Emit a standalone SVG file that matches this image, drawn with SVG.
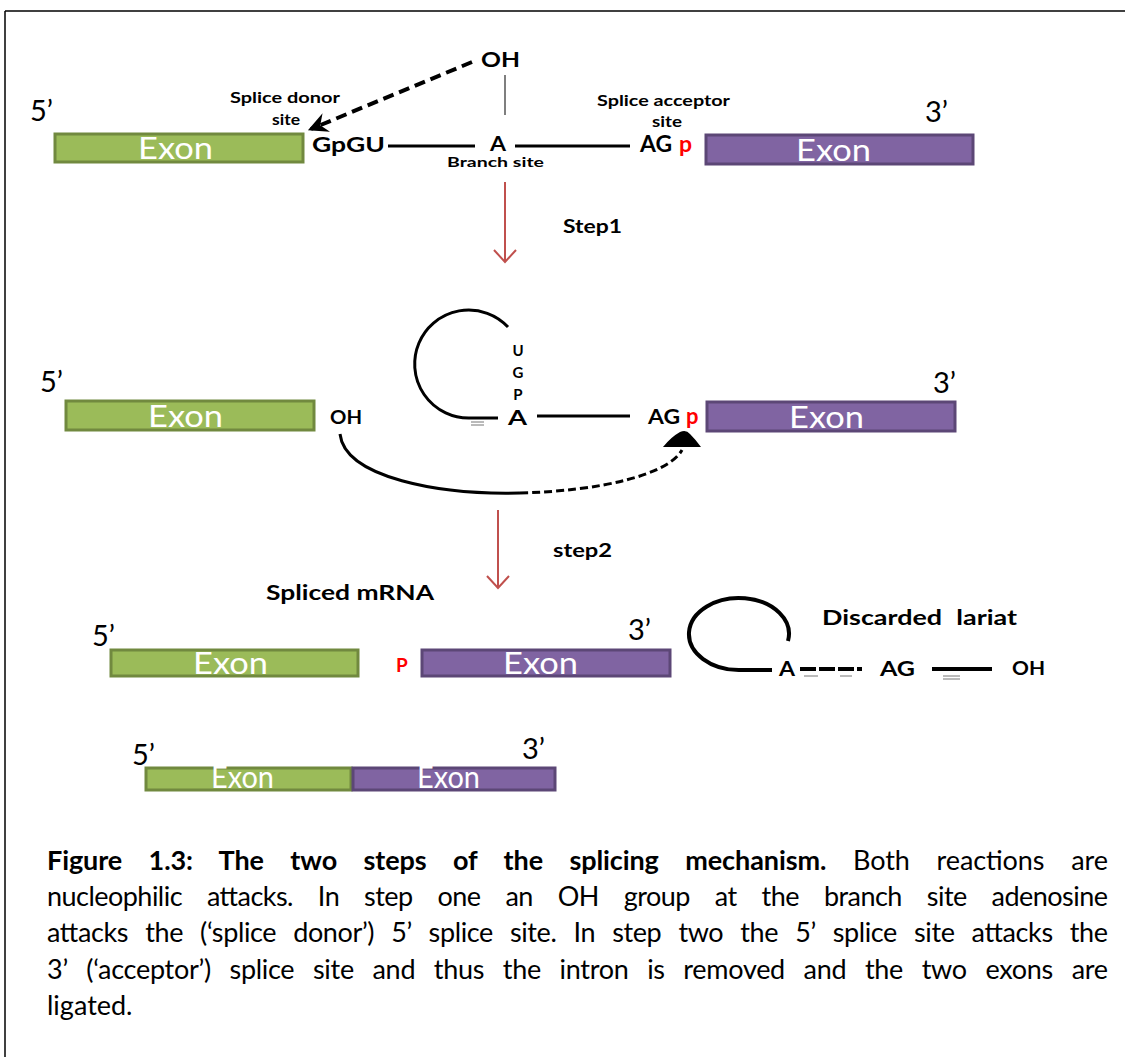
<svg xmlns="http://www.w3.org/2000/svg" width="1125" height="1057" viewBox="0 0 1125 1057">
  <defs>
    <style>
      .bold { font-family: Lato, "Open Sans", "Liberation Sans", sans-serif; font-weight: bold; fill: #000; }
      .prime { font-family: Lato, "Open Sans", "Liberation Sans", sans-serif; font-size: 29px; fill: #000; }
      .exon-txt { font-family: Lato, "Open Sans", "Liberation Sans", sans-serif; font-size: 31px; fill: #fff; }
      .green { fill: #9BBB59; stroke: #71893F; stroke-width: 3; }
      .purple { fill: #8064A2; stroke: #5C4776; stroke-width: 3; }
      .red-p { font-family: Lato, "Open Sans", "Liberation Sans", sans-serif; font-weight: bold; fill: #FF0000; }
      .intron { stroke: #000; stroke-width: 3; fill: none; }
      .step { stroke: #C0504D; stroke-width: 2; fill: none; }
      .cap { font-family: Lato, "Open Sans", "Liberation Sans", sans-serif; font-size: 27px; fill: #000; }
    </style>
    <marker id="chevron" viewBox="0 0 12 12" refX="10" refY="6" markerWidth="5" markerHeight="5" orient="auto-start-reverse" markerUnits="strokeWidth">
      <path d="M0,0 L12,6 L0,12 L4,6 Z" fill="#000"/>
    </marker>
  </defs>

  <!-- frame -->
  <g id="frame" stroke="#000" stroke-width="1.5">
    <line x1="5" y1="11" x2="1125" y2="11"/>
    <line x1="5" y1="11" x2="5" y2="1057"/>
  </g>

  <!-- pre-mRNA, before step 1 -->
  <g id="pre-mrna">
    <text class="prime" x="30" y="121">5’</text>
    <g id="exon1-a">
      <rect class="green" x="55" y="134" width="248" height="28"/>
      <text class="exon-txt" x="138" y="159" textLength="75" lengthAdjust="spacingAndGlyphs">Exon</text>
    </g>
    <text class="bold" x="230" y="103" font-size="16" textLength="110" lengthAdjust="spacingAndGlyphs">Splice donor</text>
    <text class="bold" x="272" y="125" font-size="16" textLength="28" lengthAdjust="spacingAndGlyphs">site</text>
    <text class="bold" x="312" y="152" font-size="21" textLength="73" lengthAdjust="spacingAndGlyphs">GpGU</text>
    <line class="intron" x1="388" y1="146" x2="475" y2="146"/>
    <text class="bold" x="481" y="67" font-size="21" textLength="39" lengthAdjust="spacingAndGlyphs">OH</text>
    <line x1="505" y1="75" x2="505" y2="115" stroke="#555" stroke-width="1.5"/>
    <text class="bold" x="490" y="151" font-size="21" textLength="16" lengthAdjust="spacingAndGlyphs">A</text>
    <text class="bold" x="447" y="167" font-size="14" textLength="97" lengthAdjust="spacingAndGlyphs">Branch site</text>
    <line class="intron" x1="515" y1="146" x2="630" y2="146"/>
    <text class="bold" x="597" y="106" font-size="16" textLength="133" lengthAdjust="spacingAndGlyphs">Splice acceptor</text>
    <text class="bold" x="652" y="127" font-size="16" textLength="30" lengthAdjust="spacingAndGlyphs">site</text>
    <text class="bold" x="640" y="152" font-size="22" textLength="32" lengthAdjust="spacingAndGlyphs">AG</text>
    <text class="red-p" x="679" y="152" font-size="23">p</text>
    <g id="exon2-a">
      <rect class="purple" x="706" y="135" width="267" height="29"/>
      <text class="exon-txt" x="796" y="161" textLength="75" lengthAdjust="spacingAndGlyphs">Exon</text>
    </g>
    <text class="prime" x="925" y="122">3’</text>
  </g>

  <!-- intermediate with lariat, before step 2 -->
  <g id="intermediate">
    <text class="prime" x="40" y="392">5’</text>
    <g id="exon1-b">
      <rect class="green" x="66" y="401" width="248" height="29"/>
      <text class="exon-txt" x="148" y="427" textLength="75" lengthAdjust="spacingAndGlyphs">Exon</text>
    </g>
    <text class="bold" x="330" y="424" font-size="19" textLength="32" lengthAdjust="spacingAndGlyphs">OH</text>
    <path class="intron" d="M 508 327 A 54 54 0 1 0 470 418 L 498 418" stroke-width="3.5"/>
    <line x1="471" y1="422" x2="484" y2="422" stroke="#777" stroke-width="1"/>
    <line x1="471" y1="425" x2="484" y2="425" stroke="#777" stroke-width="1"/>
    <text class="bold" x="518" y="356" font-size="15" text-anchor="middle">U</text>
    <text class="bold" x="518" y="378" font-size="15" text-anchor="middle">G</text>
    <text class="bold" x="518" y="400" font-size="15" text-anchor="middle">P</text>
    <text class="bold" x="508" y="425" font-size="21" textLength="19" lengthAdjust="spacingAndGlyphs">A</text>
    <line class="intron" x1="537" y1="416" x2="630" y2="416"/>
    <text class="bold" x="648" y="424" font-size="21" textLength="32" lengthAdjust="spacingAndGlyphs">AG</text>
    <text class="red-p" x="686" y="424" font-size="22">p</text>
    <g id="exon2-b">
      <rect class="purple" x="707" y="402" width="248" height="29"/>
      <text class="exon-txt" x="789" y="428" textLength="75" lengthAdjust="spacingAndGlyphs">Exon</text>
    </g>
    <text class="prime" x="933" y="393">3’</text>
  </g>

  <!-- spliced products -->
  <g id="products">
    <text class="bold" x="266" y="600" font-size="21" textLength="168" lengthAdjust="spacingAndGlyphs">Spliced mRNA</text>
    <text class="prime" x="92" y="646">5’</text>
    <g id="exon1-c">
      <rect class="green" x="111" y="650" width="247" height="26"/>
      <text class="exon-txt" x="193" y="674" textLength="75" lengthAdjust="spacingAndGlyphs">Exon</text>
    </g>
    <text class="red-p" x="396" y="672" font-size="19">P</text>
    <g id="exon2-c">
      <rect class="purple" x="422" y="650" width="248" height="26"/>
      <text class="exon-txt" x="503" y="674" textLength="75" lengthAdjust="spacingAndGlyphs">Exon</text>
    </g>
    <text class="prime" x="628" y="640">3’</text>
  </g>

  <!-- excised intron lariat -->
  <g id="lariat">
    <text class="bold" x="822" y="625" font-size="21" textLength="195" lengthAdjust="spacingAndGlyphs" word-spacing="6">Discarded lariat</text>
    <path d="M 788 641 A 50 36 0 1 0 740 670 L 772 670" fill="none" stroke="#000" stroke-width="4"/>
    <text class="bold" x="779" y="676" font-size="20" textLength="16" lengthAdjust="spacingAndGlyphs">A</text>
    <line x1="800" y1="669" x2="862" y2="669" stroke="#000" stroke-width="4" stroke-dasharray="16,3"/>
    <line x1="804" y1="676" x2="818" y2="676" stroke="#777" stroke-width="1"/>
    <line x1="840" y1="676" x2="852" y2="676" stroke="#777" stroke-width="1"/>
    <text class="bold" x="880" y="676" font-size="20" textLength="35" lengthAdjust="spacingAndGlyphs">AG</text>
    <line x1="932" y1="669" x2="992" y2="669" stroke="#000" stroke-width="4"/>
    <line x1="943" y1="676" x2="960" y2="676" stroke="#777" stroke-width="1"/>
    <line x1="943" y1="679" x2="960" y2="679" stroke="#777" stroke-width="1"/>
    <text class="bold" x="1012" y="675" font-size="19" textLength="33" lengthAdjust="spacingAndGlyphs">OH</text>
  </g>

  <!-- ligated mRNA -->
  <g id="mrna">
    <text class="prime" x="132" y="765" font-size="26">5’</text>
    <g id="exon1-d">
      <rect class="green" x="146" y="768" width="205" height="22"/>
      <text class="exon-txt" x="211" y="788" font-size="26" textLength="63" lengthAdjust="spacingAndGlyphs">Exon</text>
    </g>
    <g id="exon2-d">
      <rect class="purple" x="353" y="768" width="202" height="22"/>
      <text class="exon-txt" x="417" y="788" font-size="26" textLength="63" lengthAdjust="spacingAndGlyphs">Exon</text>
    </g>
    <text class="prime" x="522" y="759" font-size="26">3’</text>
  </g>

  <!-- step labels -->
  <g id="labels">
    <text class="bold" x="563" y="233" font-size="18" textLength="59" lengthAdjust="spacingAndGlyphs">Step1</text>
    <text class="bold" x="553" y="557" font-size="18" textLength="59" lengthAdjust="spacingAndGlyphs">step2</text>
  </g>

  <!-- connectors -->
  <g id="connectors">
    <path d="M 472 62 L 311 129" fill="none" stroke="#000" stroke-width="4" stroke-dasharray="11,6" marker-end="url(#chevron)"/>
    <path class="step" d="M 505 182 L 505 262 M 494 250 L 505 262 L 516 250"/>
    <path class="step" d="M 498 510 L 498 588 M 487 576 L 498 588 L 509 576"/>
    <path d="M 340 434 C 345 478 440 495 520 493" fill="none" stroke="#000" stroke-width="3"/>
    <path d="M 520 493 C 600 491 668 475 682 450" fill="none" stroke="#000" stroke-width="3" stroke-dasharray="8,4"/>
    <path d="M 663 447 Q 671 437 680 432 Q 686 429 690 434 Q 696 440 701 447 Z" fill="#000"/>
  </g>

  <!-- caption, justified between x=47 and x=1108 -->
  <g id="caption" class="cap">
    <text x="47" y="870" textLength="1061" lengthAdjust="spacing" word-spacing="20"><tspan font-weight="bold">Figure 1.3: The two steps of the splicing mechanism.</tspan> Both reactions are</text>
    <text x="47" y="906" textLength="1061" lengthAdjust="spacing" word-spacing="18.5">nucleophilic attacks. In step one an OH group at the branch site adenosine</text>
    <text x="47" y="942" textLength="1061" lengthAdjust="spacing" word-spacing="10.5">attacks the (‘splice donor’) 5’ splice site. In step two the 5’ splice site attacks the</text>
    <text x="47" y="979" textLength="1061" lengthAdjust="spacing" word-spacing="12">3’ (‘acceptor’) splice site and thus the intron is removed and the two exons are</text>
    <text x="47" y="1015">ligated.</text>
  </g>
</svg>
